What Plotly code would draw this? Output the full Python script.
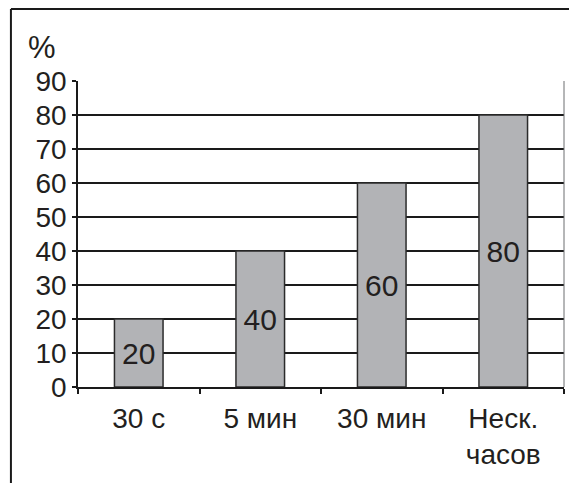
import plotly.graph_objects as go

categories = ["30 с", "5 мин", "30 мин", "Неск.<br>часов"]
values = [20, 40, 60, 80]
y_ticks = [0, 10, 20, 30, 40, 50, 60, 70, 80, 90]

FONT = "Liberation Sans, Arial, sans-serif"
INK = "#231f20"

fig = go.Figure()
fig.add_bar(
    x=categories, y=values,
    width=0.4,
    marker=dict(color="#b2b3b6", line=dict(color="#2b2b2b", width=1.5)),
    text=[str(v) for v in values],
    textposition="inside",
    insidetextanchor="middle",
    textfont=dict(family=FONT, size=30, color=INK),
    textangle=0,
    cliponaxis=False,
)

# page body adds an 8px margin, so the figure is sized to fit the window
fig.update_layout(
    width=569, height=475,
    margin=dict(l=70, r=13, t=73, b=96),
    plot_bgcolor="white",
    paper_bgcolor="white",
    showlegend=False,
    font=dict(family=FONT, size=28, color=INK),
    uniformtext=dict(minsize=10, mode="show"),
)
fig.update_yaxes(
    range=[0, 90], tickvals=y_ticks, automargin=False,
    tickfont=dict(size=28, color=INK),
    showgrid=True, gridcolor="#1a1a1a", gridwidth=2,
    showline=True, linecolor="#1a1a1a", linewidth=1.5,
    ticks="outside", ticklen=4, tickcolor="#1a1a1a", tickwidth=1.5,
    zeroline=False,
)
fig.update_xaxes(
    automargin=False,
    tickfont=dict(size=28, color=INK),
    ticklabelstandoff=5,
    showline=True, linecolor="#1a1a1a", linewidth=2,
    ticks="outside", tickson="boundaries", ticklen=5,
    tickcolor="#1a1a1a", tickwidth=1.5,
    showgrid=False,
)

# plot-area right border
fig.add_shape(type="line", xref="paper", yref="paper", x0=1, x1=1, y0=0, y1=1,
              line=dict(color="#6d6e70", width=1))
# outer frame (left and top edges)
fig.add_shape(type="line", xref="paper", yref="paper",
              x0=-0.138, x1=-0.138, y0=1.235, y1=-0.33,
              line=dict(color="#1a1a1a", width=2))
fig.add_shape(type="line", xref="paper", yref="paper",
              x0=-0.138, x1=1.03, y0=1.235, y1=1.235,
              line=dict(color="#1a1a1a", width=2))

fig.add_annotation(text="%", xref="paper", yref="paper", x=-0.074, y=1.111,
                   xanchor="center", yanchor="middle",
                   showarrow=False, font=dict(family=FONT, size=31, color=INK))

fig.write_html("out.html")
